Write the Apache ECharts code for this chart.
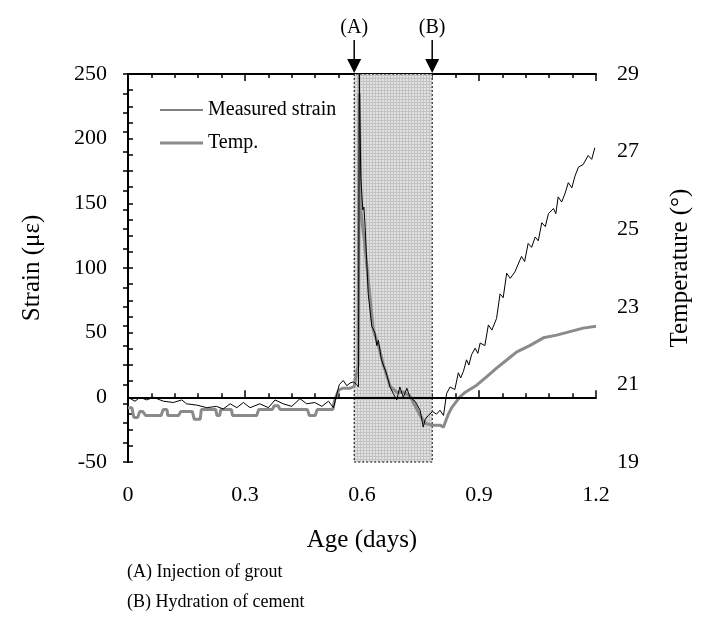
<!DOCTYPE html>
<html>
<head>
<meta charset="utf-8">
<script src="https://cdn.jsdelivr.net/npm/echarts@6/dist/echarts.min.js"></script>
<style>
  html, body { margin: 0; padding: 0; background: #fff; }
  #chart { width: 711px; height: 622px; }
</style>
</head>
<body>
<div id="chart"></div>
<script>
// measured strain (με) vs age (days)
const strainAge = [0.000, 0.005, 0.018, 0.031, 0.048, 0.065, 0.091, 0.116, 0.138, 0.150, 0.176, 0.202, 0.227, 0.244, 0.262,
  0.279, 0.296, 0.313, 0.338, 0.360, 0.377, 0.398, 0.420, 0.441, 0.458, 0.479, 0.497, 0.514, 0.527, 0.535, 0.542,
  0.552, 0.561, 0.569, 0.578, 0.586, 0.591, 0.593, 0.595, 0.597, 0.602, 0.605, 0.608, 0.612, 0.616, 0.625, 0.633,
  0.638, 0.642, 0.650, 0.663, 0.672, 0.680, 0.689, 0.697, 0.706, 0.715, 0.723, 0.736, 0.749, 0.757, 0.762, 0.770,
  0.781, 0.791, 0.800, 0.809, 0.817, 0.826, 0.838, 0.847, 0.853, 0.860, 0.868, 0.874, 0.881, 0.890, 0.897, 0.903,
  0.915, 0.924, 0.933, 0.945, 0.954, 0.962, 0.971, 0.980, 0.992, 1.009, 1.017, 1.026, 1.035, 1.044, 1.052, 1.061,
  1.070, 1.078, 1.091, 1.097, 1.103, 1.112, 1.121, 1.129, 1.138, 1.146, 1.155, 1.167, 1.180, 1.189, 1.197];
const strainVal = [0, -1, -3, 0, -2, 0, -3, -4, -2, -5, -6, -8, -7, -9, -5,
  -8, -4, -8, -5, -8, -2, -5, -7, -1, -5, -4, -7, -3, -8, 2, 10,
  13, 9, 11, 12, 10, 8, 250, 209, 170, 145, 147, 132, 106, 80, 55, 50,
  40, 44, 29, 18, 8, 3, -2, 8, 0, 7, 0, -3, -10, -23, -17, -14,
  -11, -13, -10, -14, 3, 8, 6, 19, 15, 20, 29, 25, 33, 38, 34, 42,
  40, 56, 52, 61, 80, 77, 96, 92, 97, 109, 105, 119, 116, 124, 121, 135,
  132, 142, 146, 142, 155, 151, 158, 166, 162, 171, 178, 180, 187, 184, 193];

// temperature (°) vs age (days)
const tempAge = [0.000, 0.010, 0.015, 0.025, 0.030, 0.038, 0.045, 0.085, 0.090, 0.100, 0.102, 0.130, 0.135, 0.165,
  0.170, 0.185, 0.188, 0.225, 0.228, 0.235, 0.238, 0.265, 0.268, 0.330, 0.335, 0.370, 0.375, 0.385, 0.390, 0.460,
  0.465, 0.480, 0.485, 0.525, 0.530, 0.540, 0.550, 0.570, 0.580, 0.590, 0.593, 0.597, 0.600, 0.605, 0.612, 0.620,
  0.629, 0.642, 0.655, 0.672, 0.689, 0.706, 0.723, 0.736, 0.749, 0.762, 0.781, 0.800, 0.809, 0.820, 0.830, 0.851,
  0.865, 0.894, 0.920, 0.945, 0.971, 0.997, 1.030, 1.065, 1.099, 1.133, 1.167, 1.200];
const tempVal = [20.4, 20.4, 20.15, 20.15, 20.3, 20.3, 20.2, 20.2, 20.35, 20.35, 20.2, 20.2, 20.3, 20.3,
  20.1, 20.1, 20.35, 20.35, 20.2, 20.2, 20.35, 20.35, 20.2, 20.2, 20.35, 20.35, 20.45, 20.45, 20.35, 20.35,
  20.2, 20.2, 20.35, 20.35, 20.6, 20.85, 20.9, 20.9, 20.95, 21.5, 28.5, 25.5, 25.2, 24.8, 24.1, 23.3,
  22.4, 22.0, 21.5, 20.95, 20.8, 20.8, 20.7, 20.45, 20.2, 20.0, 19.95, 19.95, 19.9, 20.2, 20.4, 20.68,
  20.8, 20.98, 21.2, 21.42, 21.63, 21.84, 22.0, 22.2, 22.27, 22.36, 22.45, 22.5];

const eventAge = [0.58, 0.78];
const eventLabel = ['(A)', '(B)'];
const notes = ['(A) Injection of grout', '(B) Hydration of cement'];

const FONT = 'Liberation Serif';

// shaded band texture
const pat = document.createElement('canvas');
pat.width = 3; pat.height = 3;
const g = pat.getContext('2d');
g.fillStyle = '#e2e2e2'; g.fillRect(0, 0, 3, 3);
g.fillStyle = '#c2c2c2'; g.fillRect(0, 0, 3, 1); g.fillRect(0, 0, 1, 3);

const zip = (a, b) => a.map((v, i) => [v, b[i]]);

const chart = echarts.init(document.getElementById('chart'));

const xBase = {
  type: 'value', min: 0, max: 1.2, interval: 0.3,
  axisLine: { lineStyle: { color: '#000', width: 2 } },
  axisTick: { inside: true, length: 7, lineStyle: { color: '#000', width: 1.5 } },
  minorTick: { show: true, splitNumber: 5, length: 4, lineStyle: { color: '#000', width: 1.5 } },
  splitLine: { show: false }
};

const option = {
  animation: false,
  textStyle: { fontFamily: FONT },
  grid: { left: 128, right: 115, top: 74, bottom: 160 },
  legend: {
    data: [
      { name: 'Measured strain', icon: 'path://M0,0H46V1.3H0Z' },
      { name: 'Temp.', icon: 'path://M0,0H46V3.2H0Z' }
    ],
    orient: 'vertical', left: 155, top: 95,
    itemWidth: 43, itemHeight: 14, itemGap: 13, symbolKeepAspect: true,
    textStyle: { fontFamily: FONT, fontSize: 20, color: '#000' }
  },
  xAxis: [
    Object.assign({}, xBase, {
      position: 'bottom',
      name: 'Age (days)', nameLocation: 'middle', nameGap: 66,
      nameTextStyle: { fontFamily: FONT, fontSize: 25, color: '#000' },
      axisLabel: { margin: 22, fontFamily: FONT, fontSize: 22, color: '#000',
        formatter: v => v === 0 ? '0' : v.toFixed(1) }
    }),
    Object.assign({}, xBase, { position: 'top', axisLabel: { show: false } })
  ],
  yAxis: [
    {
      type: 'value', min: -50, max: 250, interval: 50, position: 'left',
      name: 'Strain (με)', nameLocation: 'middle', nameGap: 83,
      nameTextStyle: { fontFamily: FONT, fontSize: 25, color: '#000' },
      axisLine: { lineStyle: { color: '#000', width: 2 } },
      axisTick: { inside: true, length: 5, lineStyle: { color: '#000', width: 1.5 } },
      minorTick: { show: true, splitNumber: 4, length: 5, lineStyle: { color: '#000', width: 1.5 } },
      axisLabel: { margin: 21, fontFamily: FONT, fontSize: 22, color: '#000' },
      splitLine: { show: false }
    },
    {
      type: 'value', min: 19, max: 29, interval: 2, position: 'right',
      name: 'Temperature (°)', nameLocation: 'middle', nameGap: 72, nameRotate: 90,
      nameTextStyle: { fontFamily: FONT, fontSize: 25, color: '#000' },
      axisLine: { show: true, lineStyle: { color: '#000', width: 2 } },
      axisTick: { inside: true, length: 5, lineStyle: { color: '#000', width: 1.5 } },
      minorTick: { show: true, splitNumber: 4, length: 5, lineStyle: { color: '#000', width: 1.5 } },
      axisLabel: { margin: 21, fontFamily: FONT, fontSize: 22, color: '#000' },
      splitLine: { show: false }
    }
  ],
  series: [
    {
      name: 'band', type: 'line', data: [], z: 1, silent: true,
      markArea: {
        silent: true,
        itemStyle: { color: { image: pat, repeat: 'repeat' }, borderColor: '#000', borderWidth: 1, borderType: [2, 2] },
        data: [[{ xAxis: eventAge[0] }, { xAxis: eventAge[1] }]]
      },
      markLine: {
        silent: true, symbol: 'none', label: { show: false },
        lineStyle: { color: '#000', width: 2, type: 'solid' },
        data: [{ yAxis: 0 }]
      }
    },
    {
      name: 'Temp.', type: 'line', yAxisIndex: 1, z: 3,
      data: zip(tempAge, tempVal), symbol: 'none',
      lineStyle: { color: '#8a8a8a', width: 3 }, itemStyle: { color: '#8a8a8a' }
    },
    {
      name: 'Measured strain', type: 'line', yAxisIndex: 0, z: 4,
      data: zip(strainAge, strainVal), symbol: 'none',
      lineStyle: { color: '#000', width: 1 }, itemStyle: { color: '#000' }
    }
  ]
};
chart.setOption(option);

// event arrows above the plot and notes below
const gr = [];
eventAge.forEach((a, i) => {
  const x = chart.convertToPixel({ xAxisIndex: 0 }, a);
  gr.push({ type: 'text', x: x, y: 28, style: { text: eventLabel[i], fontFamily: FONT, fontSize: 20, fill: '#000', align: 'center', verticalAlign: 'middle' } });
  gr.push({ type: 'line', shape: { x1: x, y1: 40, x2: x, y2: 60 }, style: { stroke: '#000', lineWidth: 1.5 } });
  gr.push({ type: 'polygon', shape: { points: [[x - 7, 59], [x + 7, 59], [x, 73]] }, style: { fill: '#000' } });
});
notes.forEach((t, i) => {
  gr.push({ type: 'text', x: 127, y: 572 + i * 30, style: { text: t, fontFamily: FONT, fontSize: 18, fill: '#000', verticalAlign: 'middle' } });
});
chart.setOption({ graphic: gr });
</script>
</body>
</html>
